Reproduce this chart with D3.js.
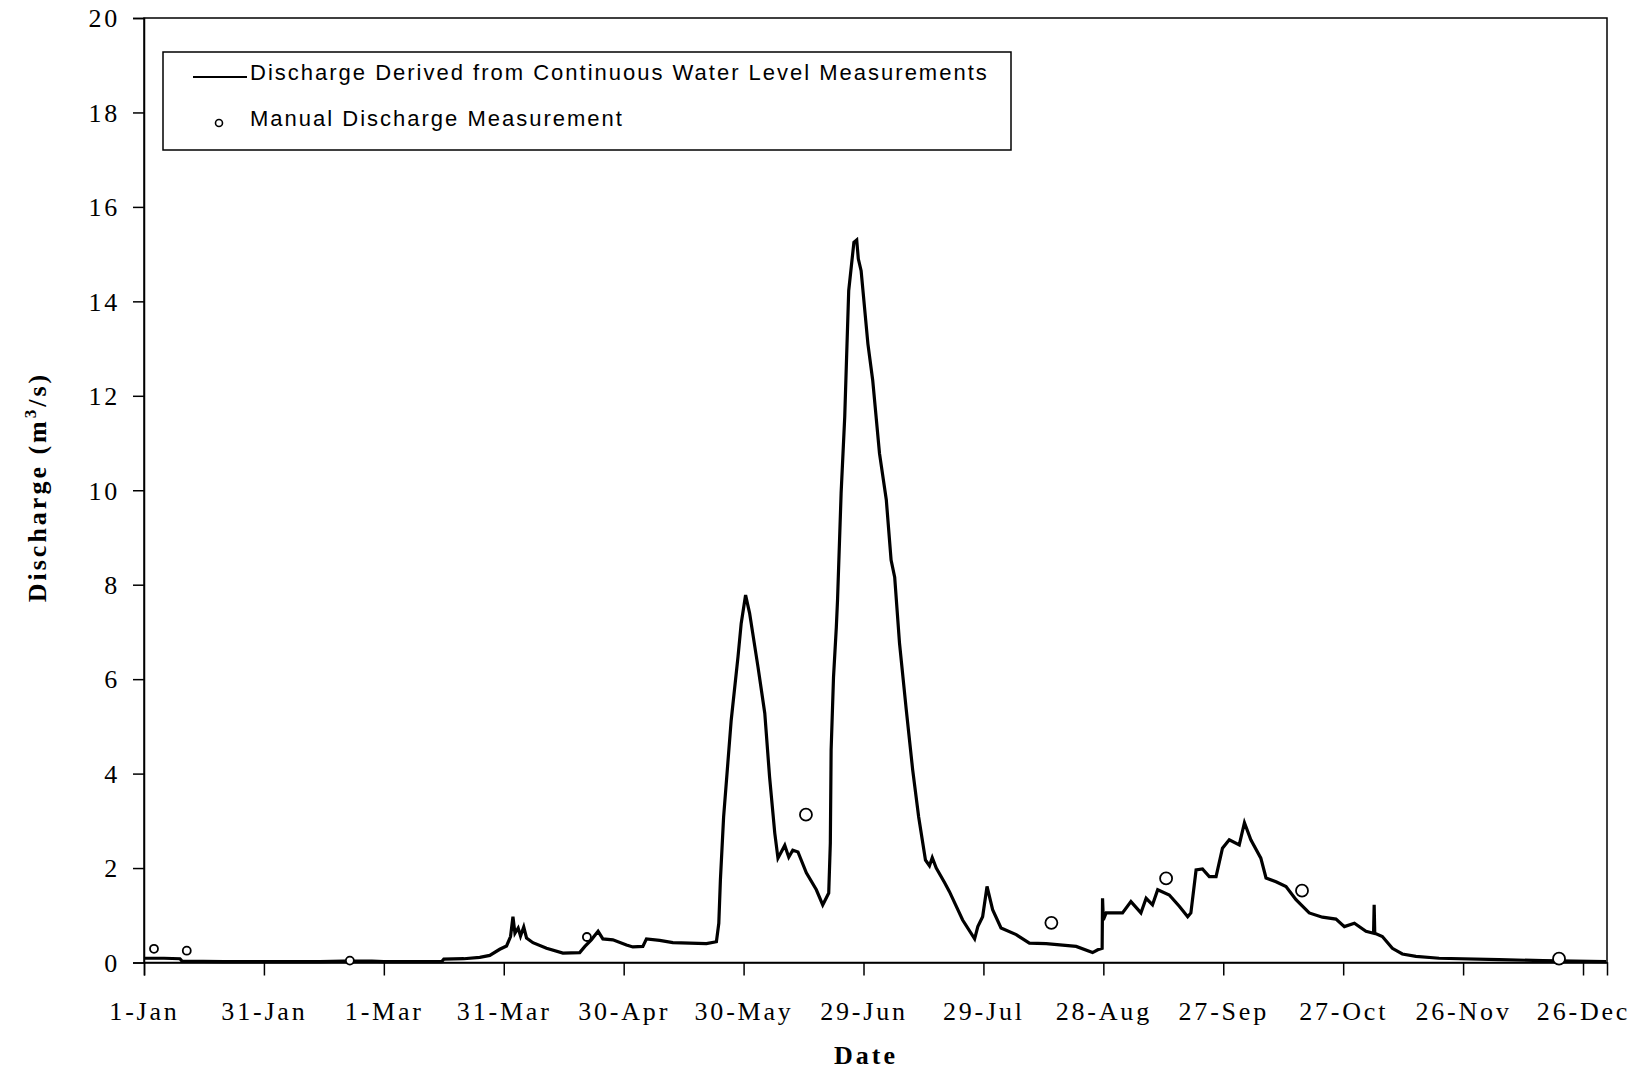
<!DOCTYPE html>
<html>
<head>
<meta charset="utf-8">
<script src="https://cdn.jsdelivr.net/npm/d3@7"></script>
<style>
  body { margin: 0; background: #fff; }
  svg { display: block; }
  .tick text { font-family: "Liberation Serif", "Times New Roman", serif; }
</style>
</head>
<body>
<svg id="chart" width="1646" height="1069"></svg>
<script>
// days since 1 Jan
const flowDays = [
  0, 5, 9, 9.5, 20, 30, 44, 50, 57, 60, 74.5, 75, 80, 84, 86.5, 89, 90.7, 91.7, 92.3, 92.8,
  93.6, 94.2, 95, 95.7, 97.3, 100.7, 104.8, 109, 110.3, 111.9, 113.6, 114.8, 117.3, 120.7, 122.3, 124.8,
  125.7, 129, 132.3, 140.7, 143.2, 143.8, 144.2, 145, 146.9, 148.6, 149.4, 150.5, 151.5, 153.6, 155.3,
  156.5, 157.8, 158.6, 160.3, 161.3, 162.3, 163.6, 165.7, 168.2, 169.8, 171.3, 171.7, 171.9, 172.5,
  173.2, 173.5, 174.4, 175.3, 175.8, 176.3, 177.6, 178.3, 178.7, 179.4, 181.1, 182.3, 184, 185.7,
  186.9, 187.8, 189, 190.7, 192.3, 193.8, 195.5, 196.5, 197.2, 198.2, 200.3, 201.5, 204.8, 207.8,
  208.6, 209.8, 210.9, 212.3, 214.4, 218.2, 221.5, 225.7, 233.2, 237.3, 238.6, 239.7, 239.8, 240,
  240.7, 244.8, 246.9, 249.4, 250.7, 252.3, 253.6, 256.5, 259, 261.1, 261.9, 263.2, 264.8, 266.5,
  268.2, 269.8, 271.5, 274, 275.3, 276.9, 279.4, 280.7, 283.2, 285.7, 288.2, 291.5, 294.8, 298.2,
  300.3, 302.8, 305.7, 307.6, 307.75, 307.9, 309.8, 312.3, 314.8, 318.2, 324, 339, 350, 365.75
];
const flowValues = [
  0.09, 0.09, 0.08, 0.03, 0.02, 0.02, 0.02, 0.03, 0.03, 0.02, 0.02, 0.07, 0.08, 0.11, 0.15, 0.28, 0.35, 0.55, 0.97, 0.62,
  0.73, 0.56, 0.75, 0.52, 0.42, 0.3, 0.2, 0.21, 0.34, 0.48, 0.66, 0.5, 0.48, 0.37, 0.33, 0.34,
  0.5, 0.47, 0.42, 0.40, 0.44, 0.83, 1.75, 3.08, 5.13, 6.47, 7.18, 7.78, 7.4, 6.26, 5.28,
  3.93, 2.74, 2.21, 2.48, 2.23, 2.38, 2.34, 1.9, 1.54, 1.22, 1.47, 2.53, 4.5, 6.05,
  7.1, 7.67, 9.94, 11.55, 12.9, 14.23, 15.25, 15.3, 14.9, 14.65, 13.1, 12.33, 10.78, 9.8,
  8.52, 8.16, 6.77, 5.35, 4.08, 3.08, 2.17, 2.05, 2.22, 2.0, 1.69, 1.5, 0.9, 0.5,
  0.76, 0.97, 1.61, 1.12, 0.73, 0.59, 0.41, 0.40, 0.34, 0.21, 0.27, 0.3, 1.36, 0.9,
  1.05, 1.05, 1.29, 1.05, 1.36, 1.22, 1.54, 1.43, 1.19, 0.97, 1.05, 1.96, 1.98, 1.82,
  1.82, 2.42, 2.6, 2.49, 2.96, 2.6, 2.21, 1.79, 1.71, 1.61, 1.33, 1.05, 0.96, 0.92,
  0.76, 0.83, 0.66, 0.62, 1.22, 0.62, 0.55, 0.3, 0.18, 0.13, 0.09, 0.06, 0.04, 0.02
];

const manualDays = [2.5, 10.7, 51.5, 110.8, 165.6, 227, 255.7, 289.7, 354];
const manualValues = [0.29, 0.25, 0.04, 0.54, 3.13, 0.84, 1.78, 1.52, 0.08];

const yTicks = [0, 2, 4, 6, 8, 10, 12, 14, 16, 18, 20];
const xTickDays = [0, 30, 60, 90, 120, 150, 180, 210, 240, 270, 300, 330, 360];

const legendLabels = [
  "Discharge Derived from Continuous Water Level Measurements",
  "Manual Discharge Measurement"
];

const start = Date.UTC(2004, 0, 1);
const toDate = d => new Date(start + d * 864e5);

const margin = { left: 144, top: 18, right: 1607, bottom: 962.5 };

const svg = d3.select("#chart");

const x = d3.scaleUtc()
  .domain([toDate(0), toDate(366)])
  .range([margin.left, margin.right]);

const y = d3.scaleLinear()
  .domain([0, 20])
  .range([margin.bottom, margin.top]);

const flow = flowDays.map((d, i) => ({ date: toDate(d), value: flowValues[i] }));
const manual = manualDays.map((d, i) => ({ date: toDate(d), value: manualValues[i], i }));

// frame
svg.append("rect")
  .attr("x", margin.left)
  .attr("y", margin.top)
  .attr("width", margin.right - margin.left)
  .attr("height", margin.bottom - margin.top)
  .attr("fill", "none")
  .attr("stroke", "#000")
  .attr("stroke-width", 1.5);

const xAxis = svg.append("g")
  .attr("transform", `translate(0,${margin.bottom})`)
  .call(d3.axisBottom(x)
    .tickValues(xTickDays.map(toDate))
    .tickFormat(d3.utcFormat("%-d-%b"))
    .tickSize(13)
    .tickPadding(21));

const yAxis = svg.append("g")
  .attr("transform", `translate(${margin.left},0)`)
  .call(d3.axisLeft(y)
    .tickValues(yTicks)
    .tickSize(11)
    .tickPadding(13));

[xAxis, yAxis].forEach(g => {
  g.select(".domain").attr("stroke-width", 1.5);
  g.selectAll(".tick line").attr("stroke-width", 1.5);
  g.selectAll(".tick text")
    .attr("fill", "#000")
    .style("font-size", "26px")
    .style("letter-spacing", "2.8px");
});
xAxis.selectAll(".tick text").attr("dy", "0.9em");
yAxis.selectAll(".tick text").attr("dy", "0.34em");

// continuous record
const line = d3.line()
  .x(d => x(d.date))
  .y(d => y(d.value));

svg.append("path")
  .datum(flow)
  .attr("d", line)
  .attr("fill", "none")
  .attr("stroke", "#000")
  .attr("stroke-width", 3.2)
  .attr("stroke-linejoin", "miter");

// manual measurements
svg.selectAll(".manual")
  .data(manual)
  .enter()
  .append("circle")
  .attr("class", "manual")
  .attr("cx", d => x(d.date))
  .attr("cy", d => y(d.value))
  .attr("r", d => d.i < 4 ? 4 : 6)
  .attr("fill", "#fff")
  .attr("stroke", "#000")
  .attr("stroke-width", 1.8);

// axis titles
svg.append("text")
  .attr("x", 866)
  .attr("y", 1064)
  .attr("text-anchor", "middle")
  .style("font-family", "'Liberation Serif', serif")
  .style("font-weight", "bold")
  .style("font-size", "26px")
  .style("letter-spacing", "3px")
  .text("Date");

const yTitle = svg.append("text")
  .attr("transform", "translate(46,487) rotate(-90)")
  .attr("text-anchor", "middle")
  .style("font-family", "'Liberation Serif', serif")
  .style("font-weight", "bold")
  .style("font-size", "26px")
  .style("letter-spacing", "3px");
yTitle.append("tspan").text("Discharge (m");
yTitle.append("tspan").attr("dy", -10).style("font-size", "17px").text("3");
yTitle.append("tspan").attr("dy", 10).text("/s)");

// legend
const legend = svg.append("g");
legend.append("rect")
  .attr("x", 163)
  .attr("y", 52)
  .attr("width", 1011 - 163)
  .attr("height", 150 - 52)
  .attr("fill", "#fff")
  .attr("stroke", "#000")
  .attr("stroke-width", 1.5);

legend.append("line")
  .attr("x1", 193).attr("x2", 247)
  .attr("y1", 77).attr("y2", 77)
  .attr("stroke", "#000")
  .attr("stroke-width", 2);

legend.append("circle")
  .attr("cx", 219).attr("cy", 123)
  .attr("r", 3.5)
  .attr("fill", "#fff")
  .attr("stroke", "#000")
  .attr("stroke-width", 1.6);

legend.selectAll(".label")
  .data(legendLabels)
  .enter()
  .append("text")
  .attr("class", "label")
  .attr("x", 250)
  .attr("y", (d, i) => 80 + i * 46)
  .style("font-family", "'Liberation Sans', Arial, sans-serif")
  .style("font-size", "22px")
  .style("letter-spacing", "2px")
  .text(d => d);
</script>
</body>
</html>
